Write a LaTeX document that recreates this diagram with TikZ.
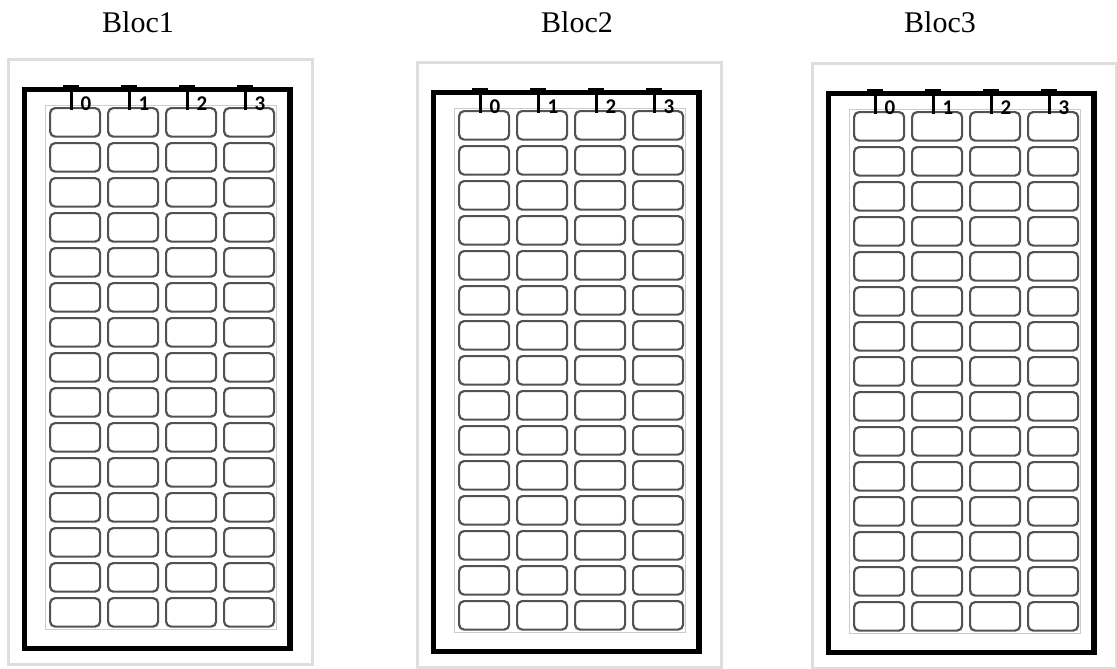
\documentclass[tikz,border=0pt]{standalone}
\usepackage{fontspec}
\setmainfont{Liberation Serif}
\newfontfamily\digitfont{Carlito}

\tikzset{
  cell/.style={draw=black!68, line width=2.2pt, rounded corners=5pt,
    minimum width=50pt, minimum height=28.5pt, inner sep=0pt, anchor=north west},
  outerframe/.style={draw=black!13, line width=3pt},
  gridbox/.style={draw=black!20, line width=0.8pt},
  blockframe/.style={draw=black, line width=5.5pt},
  tmark/.style={draw=black, line width=3pt},
  tlabel/.style={inner sep=0pt, font=\digitfont\bfseries\fontsize{21}{23}\selectfont},
  bloctitle/.style={anchor=base, inner sep=0pt, font=\fontsize{30}{34}\selectfont}
}

\begin{document}
\begin{tikzpicture}[x=1pt, y=-1pt]
  \useasboundingbox (0,0) rectangle (1117,669);
  % one block: frames, cell grid and the four T marks
  \foreach \b/\ox/\oy/\tx in {1/49/107/138, 2/458/110/577, 3/853/111/940} {
    \draw[outerframe] (\ox-41,\oy-47) rectangle (\ox+263,\oy+557);
    \draw[gridbox] (\ox-4,\oy-2) rectangle (\ox+227,\oy+522);
    \draw[blockframe] (\ox-24.5,\oy-17.5) rectangle (\ox+241,\oy+541.5);
    \node[bloctitle] (title\b) at (\tx,33) {Bloc\b};
    \foreach \c in {0,...,3}
      \foreach \r in {0,...,14}
        \node[cell] (b\b-\r-\c) at (\ox+58*\c,\oy+35*\r) {};
    \foreach \c in {0,...,3} {
      \draw[tmark] (\ox+14+58*\c,\oy-20) -- (\ox+30+58*\c,\oy-20)
                   (\ox+22+58*\c,\oy-20) -- (\ox+22+58*\c,\oy+3);
      \node[tlabel] (lab\b-\c) at (\ox+37+58*\c,\oy-3) {\c};
    }
  }
\end{tikzpicture}
\end{document}
